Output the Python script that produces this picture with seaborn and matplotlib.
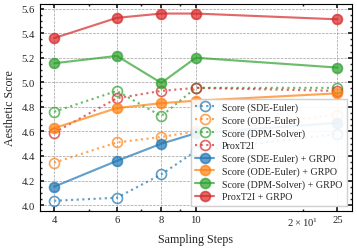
import matplotlib
matplotlib.use("Agg")
import matplotlib.pyplot as plt
import seaborn as sns
import numpy as np

steps = [4, 6, 8, 10, 25]
tick_labels = ["4", "6", "8", "10", "25"]

sde = [4.035, 4.06, 4.25, 4.44, 4.58]
ode = [4.345, 4.51, 4.555, 4.60, 4.735]
dpm = [4.76, 4.93, 4.725, 4.955, 4.955]
prox = [4.59, 4.87, 4.93, 4.955, 4.93]

sde_g = [4.15, 4.36, 4.50, 4.585, 4.67]
ode_g = [4.627, 4.79, 4.83, 4.85, 4.91]
dpm_g = [5.155, 5.215, 4.995, 5.20, 5.12]
prox_g = [5.36, 5.525, 5.56, 5.56, 5.513]

sns.set_theme(style="ticks")
plt.rcParams.update({
    "font.family": ["Liberation Serif", "DejaVu Serif"],
    "mathtext.fontset": "cm",
    "font.size": 8.5,
    "axes.labelsize": 8.5,
    "xtick.labelsize": 7.5,
    "ytick.labelsize": 7.5,
    "legend.fontsize": 7.1,
    "xtick.direction": "in",
    "ytick.direction": "in",
    "xtick.top": True,
    "ytick.right": True,
    "xtick.minor.visible": True,
    "ytick.minor.visible": True,
    "xtick.major.size": 3,
    "ytick.major.size": 3,
    "xtick.minor.size": 1.5,
    "ytick.minor.size": 1.5,
    "axes.linewidth": 0.8,
    "axes.edgecolor": "black",
    "axes.grid": True,
    "grid.linestyle": "--",
    "grid.color": "#888888",
    "grid.linewidth": 0.5,
    "grid.alpha": 0.8,
})

colors = ["#1f77b4", "#ff7f0e", "#2ca02c", "#d62728"]

fig = plt.figure(figsize=(3.5, 2.46), dpi=102)
ax = fig.add_axes([0.112, 0.157, 0.873, 0.823])

base = [("Score (SDE-Euler)", sde), ("Score (ODE-Euler)", ode),
        ("Score (DPM-Solver)", dpm), ("ProxT2I", prox)]
grpo = [("Score (SDE-Euler) + GRPO", sde_g), ("Score (ODE-Euler) + GRPO", ode_g),
        ("Score (DPM-Solver) + GRPO", dpm_g), ("ProxT2I + GRPO", prox_g)]

for (lab, vals), c in zip(base, colors):
    sns.lineplot(x=steps, y=vals, ax=ax, color=c, linestyle=":", linewidth=1.5,
                 marker="o", markersize=7, markerfacecolor="none",
                 markeredgecolor=c, markeredgewidth=1.2, alpha=0.7, label=lab)
for (lab, vals), c in zip(grpo, colors):
    sns.lineplot(x=steps, y=vals, ax=ax, color=c, linestyle="-", linewidth=1.5,
                 marker="o", markersize=7, markerfacecolor=c,
                 markeredgecolor=c, markeredgewidth=1.2, alpha=0.7, label=lab)

ax.set_xscale("log")
ax.set_xticks(steps)
ax.set_xticklabels(tick_labels)
ax.set_ylim(3.955, 5.637)
ax.set_xlabel("Sampling Steps")
ax.set_ylabel("Aesthetic Score")
ax.grid(True, which="major", linestyle="--", color="#888888", linewidth=0.5)
ax.grid(False, which="minor")
ax.legend(loc="lower right", frameon=True, fancybox=False, edgecolor="#cccccc",
          framealpha=0.9, handlelength=1.9, handletextpad=0.8,
          labelspacing=0.33, borderpad=0.4)

fig.savefig("out.png", dpi=102)
